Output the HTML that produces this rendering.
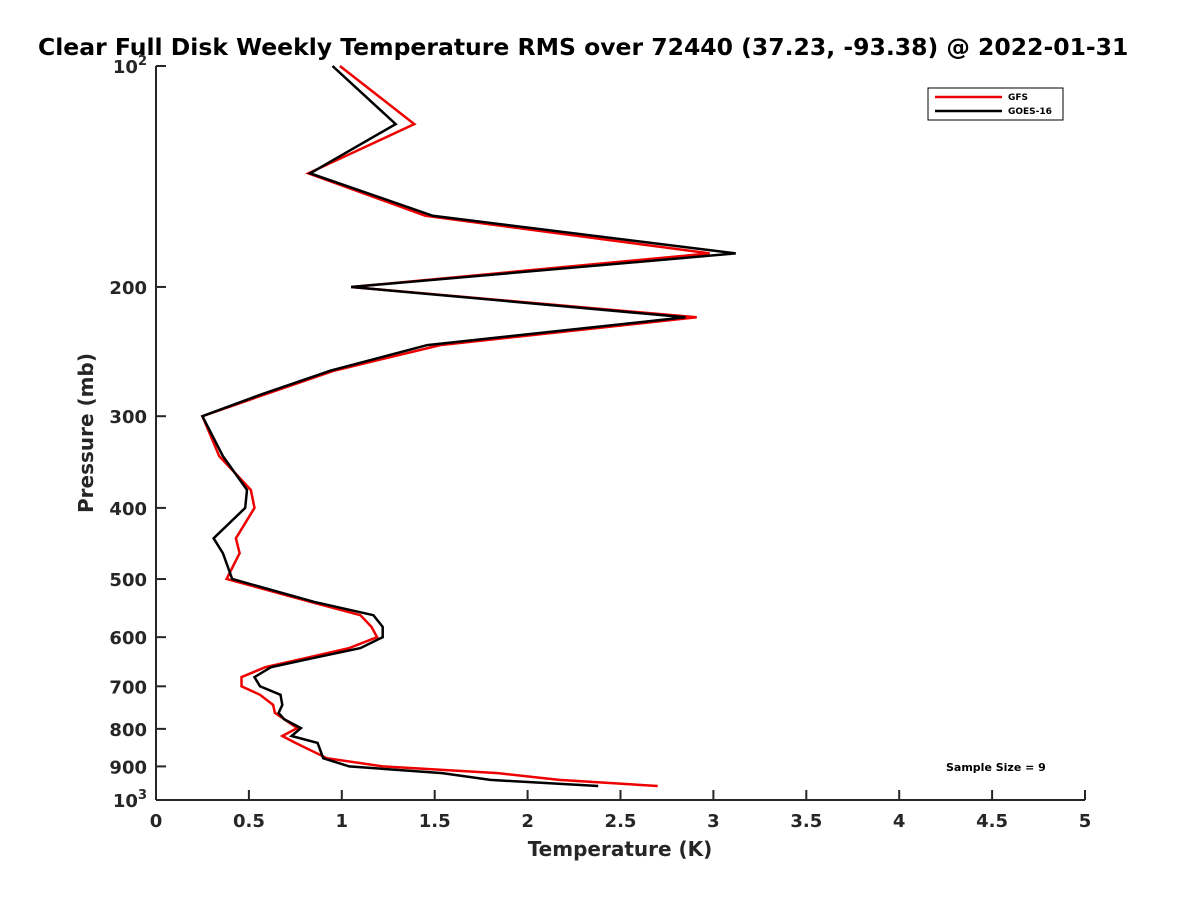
<!DOCTYPE html>
<html><head><meta charset="utf-8"><style>
body{margin:0;background:#fff;overflow:hidden;}
svg{display:block;font-family:"DejaVu Sans","Liberation Sans",sans-serif;font-weight:bold;}
</style></head><body>
<svg id="chart" width="1200" height="900" viewBox="0 0 1200 900" xmlns="http://www.w3.org/2000/svg">
<rect width="1200" height="900" fill="#fff"/>
<text x="38" y="55" font-size="23.5" fill="#000">Clear Full Disk Weekly Temperature RMS over 72440 (37.23, -93.38) @ 2022-01-31</text>
<g id="axes"></g>
<g id="series"></g>
<g>
<rect x="928" y="88" width="135" height="32" fill="#fff" stroke="#000" stroke-width="1"/>
<line x1="935" y1="97" x2="1002" y2="97" stroke="#e00" stroke-width="2.5"/>
<text x="1008" y="100" font-size="9">GFS</text>
<line x1="935" y1="111" x2="1002" y2="111" stroke="#000" stroke-width="2.5"/>
<text x="1008" y="114" font-size="9">GOES-16</text>
</g>
<text x="946" y="771" font-size="11" fill="#000">Sample Size = 9</text>
<text x="620" y="856" font-size="20" fill="#262626" text-anchor="middle">Temperature (K)</text>
<text transform="translate(93,433) rotate(-90)" font-size="20" fill="#262626" text-anchor="middle">Pressure (mb)</text>
</svg>
<script>
const pressures=[100,120,140,160,180,200,220,240,260,280,300,340,378,400,440,461,500,537,560,581,600,621,642,659,680,700,719,742,761,776,798,818,836,877,900,919,939,957];
const gfsValues=[0.99,1.39,0.82,1.45,2.98,1.05,2.91,1.53,0.96,0.59,0.25,0.34,0.51,0.53,0.43,0.45,0.38,0.83,1.10,1.16,1.19,1.04,0.79,0.59,0.46,0.46,0.56,0.63,0.64,0.69,0.76,0.68,0.75,0.92,1.22,1.84,2.17,2.70];
const goesValues=[0.95,1.29,0.83,1.49,3.12,1.05,2.85,1.46,0.94,0.57,0.25,0.36,0.49,0.48,0.31,0.36,0.41,0.85,1.17,1.22,1.22,1.10,0.83,0.62,0.53,0.56,0.67,0.68,0.66,0.69,0.78,0.73,0.87,0.90,1.04,1.54,1.80,2.38];
const xTicks=[0,0.5,1,1.5,2,2.5,3,3.5,4,4.5,5];
const xTickLabels=["0","0.5","1","1.5","2","2.5","3","3.5","4","4.5","5"];
const yTicks=[100,200,300,400,500,600,700,800,900,1000];
const yTickLabels=["10^2","200","300","400","500","600","700","800","900","10^3"];

const L=156,R=1085,T=66,B=800;
const xs=v=>L+(v-0)/(5-0)*(R-L);
const ys=p=>T+(Math.log10(p)-2)*(B-T);
const NS="http://www.w3.org/2000/svg";
function mk(tag,attrs,parent){const e=document.createElementNS(NS,tag);for(const k in attrs)e.setAttribute(k,attrs[k]);parent.appendChild(e);return e;}
const ax=document.getElementById('axes');
const ser=document.getElementById('series');
let e=mk('line',{x1:L,y1:T,x2:L,y2:B,stroke:'#262626','stroke-width':2},ax);


e=mk('line',{x1:L,y1:B,x2:R,y2:B,stroke:'#262626','stroke-width':2},ax);


xTicks.forEach((v,i)=>{
  const x=xs(v);
  mk('line',{x1:x,y1:B,x2:x,y2:B-10,stroke:'#262626','stroke-width':2},ax);
  const t=mk('text',{x:x,y:B+27,'font-size':18,fill:'#262626','text-anchor':'middle'},ax);
  t.textContent=xTickLabels[i];
  
  
});
yTicks.forEach((p,i)=>{
  const y=ys(p);
  mk('line',{x1:L,y1:y,x2:L+10,y2:y,stroke:'#262626','stroke-width':2},ax);
  const lab=yTickLabels[i];
  const t=mk('text',{x:L-9,y:y+7,'font-size':18,fill:'#262626','text-anchor':'end'},ax);
  if(lab.indexOf('^')>=0){
    const parts=lab.split('^');
    const a=mk('tspan',{},t);a.textContent=parts[0];
    const b=mk('tspan',{dy:-8,'font-size':13},t);b.textContent=parts[1];
  } else t.textContent=lab;
  
  
});
function draw(vals,color,name){
  const d=vals.map((v,i)=>(i?'L':'M')+xs(v).toFixed(1)+' '+ys(pressures[i]).toFixed(1)).join(' ');
  const p=mk('path',{d:d,fill:'none',stroke:color,'stroke-width':2.5,'stroke-linejoin':'miter'},ser);
  
  
}
draw(gfsValues,'#e00','gfs-line');
draw(goesValues,'#000','goes16-line');
</script>
</body></html>
